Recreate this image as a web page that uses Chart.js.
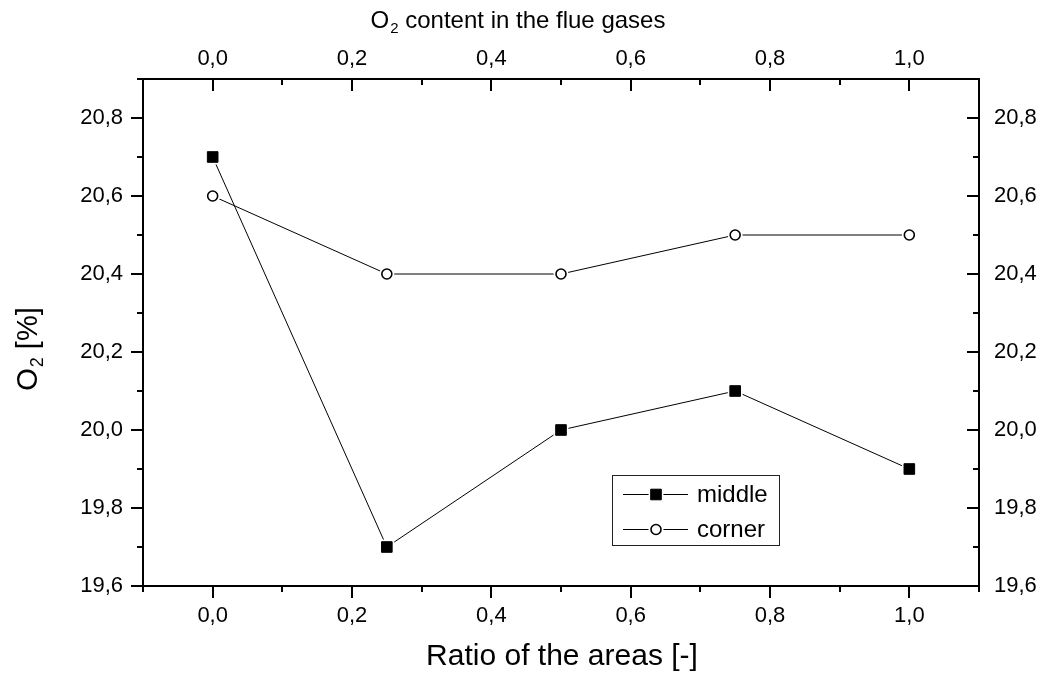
<!DOCTYPE html>
<html>
<head>
<meta charset="utf-8">
<title>O2 vs ratio of the areas</title>
<script src="https://cdn.jsdelivr.net/npm/chart.js@4.4.0/dist/chart.umd.min.js"></script>
<style>
    html, body { margin: 0; padding: 0; background: #ffffff; }
    #wrap { width: 1042px; height: 677px; }
</style>
</head>
<body>
<div id="wrap"><canvas id="o2Chart" width="1042" height="677"></canvas></div>
<script>
// Data
const ratios = [0, 0.25, 0.5, 0.75, 1.0];
const middleValues = [20.7, 19.7, 20.0, 20.1, 19.9];
const cornerValues = [20.6, 20.4, 20.4, 20.5, 20.5];

// Axes
const xRange = [-0.1, 1.1];
const yRange = [19.6, 20.9];
const xMajorTicks = [0, 0.2, 0.4, 0.6, 0.8, 1.0];
const xMinorTicks = [-0.1, 0.1, 0.3, 0.5, 0.7, 0.9, 1.1];
const yMajorTicks = [19.6, 19.8, 20.0, 20.2, 20.4, 20.6, 20.8];
const yMinorTicks = [19.7, 19.9, 20.1, 20.3, 20.5, 20.7, 20.9];

const FONT = "'Liberation Sans', Arial, sans-serif";
const INK = '#000000';

// 0.2 -> "0,2"
function commaLabel(v) {
    return Number(v).toFixed(1).replace('.', ',');
}

function toPoints(xs, ys) {
    return xs.map((x, i) => ({ x: x, y: ys[i] }));
}

function axis(position, range, ticks, size, padding) {
    const horizontal = position === 'top' || position === 'bottom';
    return {
        type: 'linear',
        position: position,
        min: range[0],
        max: range[1],
        grid: { display: false, drawTicks: false },
        border: { display: false },
        ticks: {
            color: INK,
            font: { family: FONT, size: 22 },
            padding: padding,
            autoSkip: false,
            maxRotation: 0,
            callback: (v) => commaLabel(v)
        },
        afterBuildTicks: (scale) => {
            scale.ticks = ticks.map(v => ({ value: v }));
        },
        afterFit: (scale) => {
            if (horizontal) scale.height = size; else scale.width = size;
        }
    };
}

// Draw "O" + subscript "2" + rest, starting at x, on baseline y
function drawO2(ctx, x, y, rest, size) {
    ctx.font = `${size}px ${FONT}`;
    ctx.fillText('O', x, y);
    let w = ctx.measureText('O').width;
    const sub = Math.round(size * 0.62);
    ctx.font = `${sub}px ${FONT}`;
    ctx.fillText('2', x + w + 1, y + size * 0.22);
    w += ctx.measureText('2').width + 1;
    ctx.font = `${size}px ${FONT}`;
    ctx.fillText(rest, x + w, y);
}

function o2Width(ctx, rest, size) {
    ctx.font = `${size}px ${FONT}`;
    let w = ctx.measureText('O').width + ctx.measureText(rest).width;
    ctx.font = `${Math.round(size * 0.62)}px ${FONT}`;
    return w + ctx.measureText('2').width + 1;
}

// Origin-style marker: white halo first so the line stops short of it
function drawMarker(ctx, ds, x, y) {
    ctx.fillStyle = '#ffffff';
    ctx.strokeStyle = '#ffffff';
    ctx.lineWidth = 0;
    Chart.helpers.drawPoint(ctx, {
        pointStyle: ds.markerStyle,
        radius: ds.markerRadius + ds.markerGap,
        rotation: 0,
        borderWidth: 0
    }, x, y);
    ctx.fillStyle = ds.markerFill;
    ctx.strokeStyle = INK;
    ctx.lineWidth = ds.markerBorder;
    Chart.helpers.drawPoint(ctx, {
        pointStyle: ds.markerStyle,
        radius: ds.markerRadius,
        rotation: 0,
        borderWidth: ds.markerBorder
    }, x, y);
}

const markerPlugin = {
    id: 'originMarkers',
    afterDatasetsDraw(chart) {
        const ctx = chart.ctx;
        ctx.save();
        chart.data.datasets.forEach((ds, i) => {
            chart.getDatasetMeta(i).data.forEach(pt => drawMarker(ctx, ds, pt.x, pt.y));
        });
        ctx.restore();
    }
};

const framePlugin = {
    id: 'originFrame',
    afterDraw(chart) {
        const ctx = chart.ctx;
        const area = chart.chartArea;
        const sx = chart.scales.x;
        const sy = chart.scales.y;
        const major = 12;
        const minor = 6;

        ctx.save();
        ctx.strokeStyle = INK;
        ctx.lineWidth = 2;
        ctx.strokeRect(area.left, area.top, area.right - area.left, area.bottom - area.top);

        ctx.beginPath();
        const xTick = (v, len) => {
            const px = Math.round(sx.getPixelForValue(v));
            ctx.moveTo(px, area.bottom); ctx.lineTo(px, area.bottom + len);
            ctx.moveTo(px, area.top); ctx.lineTo(px, area.top + len);
        };
        const yTick = (v, len) => {
            const py = Math.round(sy.getPixelForValue(v));
            ctx.moveTo(area.left - len, py); ctx.lineTo(area.left, py);
            ctx.moveTo(area.right - len, py); ctx.lineTo(area.right, py);
        };
        xMajorTicks.forEach(v => xTick(v, major));
        xMinorTicks.forEach(v => xTick(v, minor));
        yMajorTicks.forEach(v => yTick(v, major));
        yMinorTicks.forEach(v => yTick(v, minor));
        ctx.stroke();

        // Axis titles
        ctx.fillStyle = INK;
        ctx.textBaseline = 'alphabetic';
        ctx.textAlign = 'left';

        ctx.font = `30px ${FONT}`;
        const bottomTitle = 'Ratio of the areas [-]';
        const bw = ctx.measureText(bottomTitle).width;
        ctx.fillText(bottomTitle, 562 - bw / 2, 665);

        const topRest = ' content in the flue gases';
        const tw = o2Width(ctx, topRest, 24);
        drawO2(ctx, 518 - tw / 2, 28, topRest, 24);

        ctx.save();
        ctx.translate(37, 349);
        ctx.rotate(-Math.PI / 2);
        const yRest = ' [%]';
        const yw = o2Width(ctx, yRest, 29);
        drawO2(ctx, -yw / 2, 0, yRest, 29);
        ctx.restore();

        // Legend
        ctx.lineWidth = 1;
        ctx.strokeStyle = '#222222';
        ctx.strokeRect(612.5, 475.5, 167, 70);
        const rows = [
            { label: 'middle', ds: chart.data.datasets[0], y: 494 },
            { label: 'corner', ds: chart.data.datasets[1], y: 529 }
        ];
        ctx.textBaseline = 'middle';
        rows.forEach(r => {
            ctx.strokeStyle = INK;
            ctx.lineWidth = 1;
            ctx.beginPath();
            ctx.moveTo(623, r.y + 0.5); ctx.lineTo(688, r.y + 0.5);
            ctx.stroke();
            drawMarker(ctx, r.ds, 656, r.y + 0.5);
            ctx.fillStyle = INK;
            ctx.font = `24px ${FONT}`;
            ctx.fillText(r.label, 697, r.y + 1);
        });
        ctx.restore();
    }
};

const config = {
    type: 'scatter',
    data: {
        datasets: [
            {
                label: 'middle',
                data: toPoints(ratios, middleValues),
                showLine: true,
                borderColor: INK,
                borderWidth: 1,
                pointRadius: 0,
                pointHoverRadius: 0,
                markerStyle: 'rect',
                markerRadius: 7.5,
                markerGap: 3,
                markerFill: INK,
                markerBorder: 1,
                xAxisID: 'x',
                yAxisID: 'y'
            },
            {
                label: 'corner',
                data: toPoints(ratios, cornerValues),
                showLine: true,
                borderColor: INK,
                borderWidth: 1,
                pointRadius: 0,
                pointHoverRadius: 0,
                markerStyle: 'circle',
                markerRadius: 5,
                markerGap: 2.5,
                markerFill: '#ffffff',
                markerBorder: 1.6,
                xAxisID: 'x',
                yAxisID: 'y'
            }
        ]
    },
    options: {
        responsive: false,
        animation: false,
        layout: { padding: 0 },
        plugins: {
            legend: { display: false },
            tooltip: { enabled: false }
        },
        scales: {
            x: axis('bottom', xRange, xMajorTicks, 91, 17),
            x2: axis('top', xRange, xMajorTicks, 79, 7),
            y: axis('left', yRange, yMajorTicks, 143, 20),
            y2: axis('right', yRange, yMajorTicks, 63, 15)
        }
    },
    plugins: [markerPlugin, framePlugin]
};

new Chart(document.getElementById('o2Chart'), config);
</script>
</body>
</html>
